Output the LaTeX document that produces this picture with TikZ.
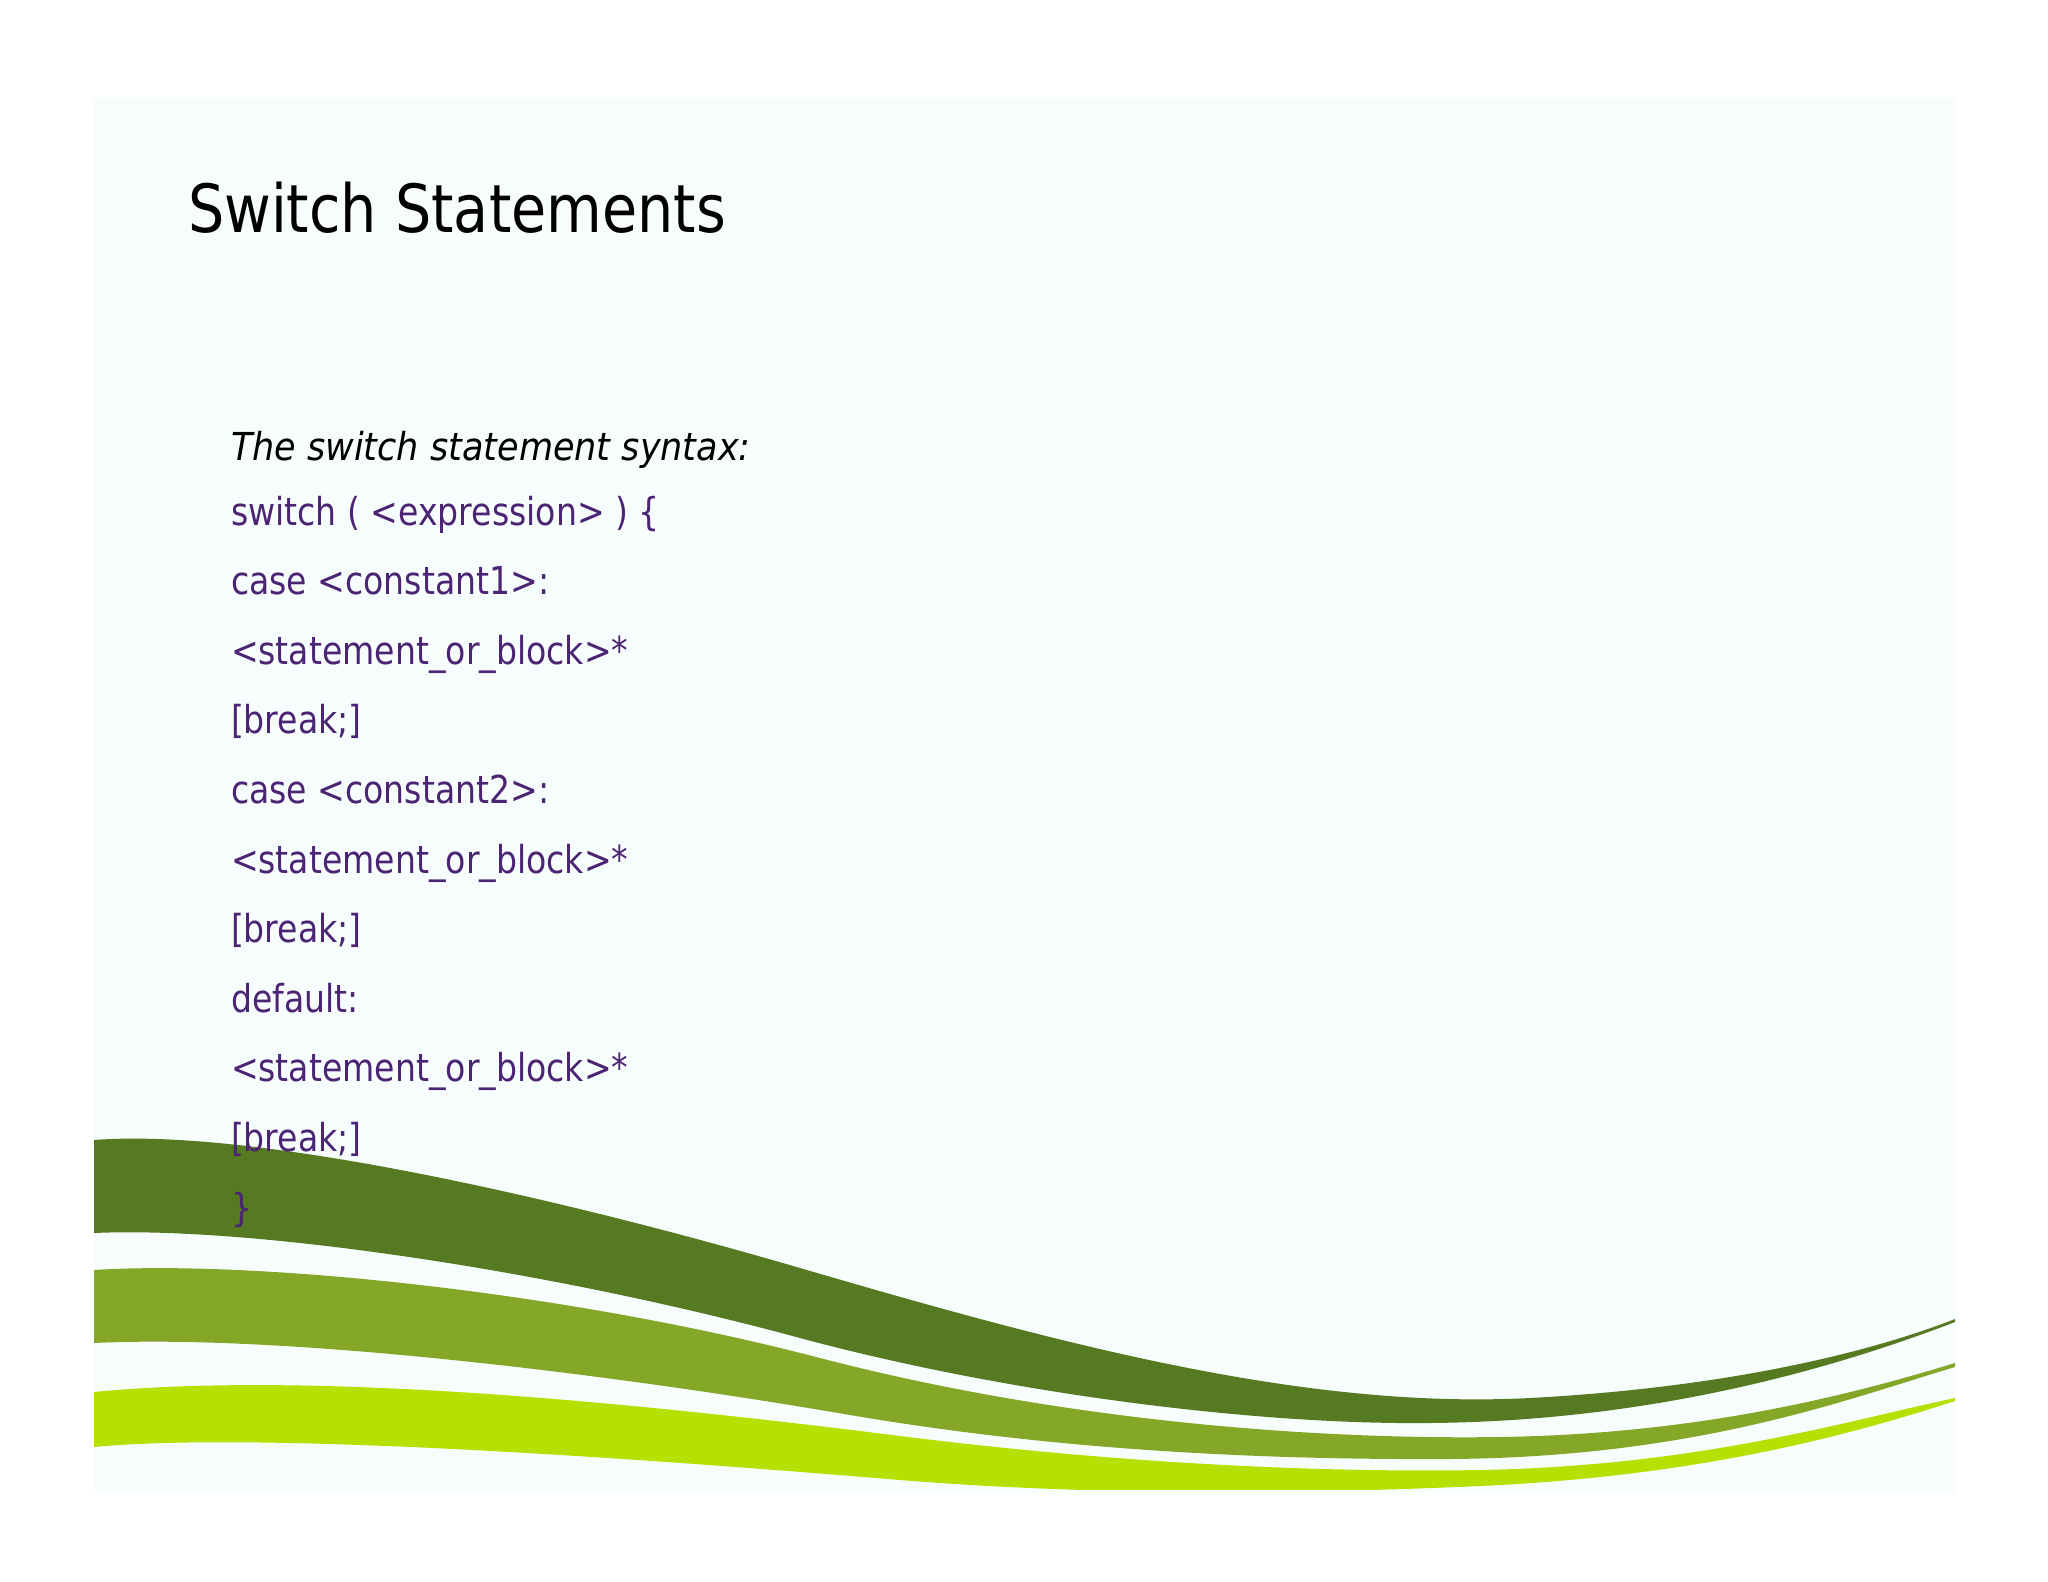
\documentclass[tikz,border=0pt]{standalone}
\usepackage{fontspec}
\newfontfamily\slidefont[FakeStretch=0.86]{DejaVu Sans}
\newfontfamily\slideital[FakeStretch=0.91]{DejaVu Sans Oblique}
\definecolor{slidebg}{HTML}{F7FCFD}
\definecolor{codepurple}{HTML}{4B2473}
\definecolor{wdark}{HTML}{557A22}
\definecolor{wmid}{HTML}{84A727}
\definecolor{wlight}{HTML}{B5E000}
\begin{document}
\begin{tikzpicture}[x=1pt,y=-1pt,
  txt/.style={anchor=base west, inner sep=0pt, outer sep=0pt, text=codepurple,
    font=\slidefont\fontsize{38.5}{46}\selectfont},
  ttl/.style={anchor=base west, inner sep=0pt, outer sep=0pt, text=black,
    font=\slidefont\fontsize{66.5}{80}\selectfont}]
\useasboundingbox (0,0) rectangle (2048,1582);
\fill[white] (0,0) rectangle (2048,1582);
\fill[slidebg] (94,98) rectangle (1955,1492);
\begin{scope}
\clip (94,98) rectangle (1955,1489);
% dark band
\fill[wdark] (94,1140) .. controls (250,1128) and (550,1195) .. (800,1268)
  .. controls (1050,1341) and (1300,1410) .. (1530,1398)
  .. controls (1700,1389) and (1850,1360) .. (1955,1319)
  -- (1955,1322)
  .. controls (1830,1370) and (1650,1421) .. (1430,1423)
  .. controls (1250,1425) and (1000,1392) .. (800,1338)
  .. controls (550,1270) and (250,1226) .. (94,1233) -- cycle;
% medium band
\fill[wmid] (94,1270) .. controls (250,1260) and (560,1290) .. (820,1358)
  .. controls (1050,1418) and (1300,1440) .. (1500,1437)
  .. controls (1700,1434) and (1850,1395) .. (1955,1363)
  -- (1955,1367)
  .. controls (1850,1398) and (1700,1457) .. (1450,1459)
  .. controls (1250,1460) and (1050,1449) .. (850,1415)
  .. controls (600,1372) and (280,1334) .. (94,1343) -- cycle;
% light band
\fill[wlight] (94,1392) .. controls (300,1372) and (600,1398) .. (900,1436)
  .. controls (1100,1461) and (1300,1473) .. (1480,1470)
  .. controls (1700,1466) and (1850,1420) .. (1955,1398)
  -- (1955,1401)
  .. controls (1850,1435) and (1700,1476) .. (1480,1486)
  .. controls (1300,1494) and (1100,1496) .. (900,1480)
  .. controls (600,1455) and (250,1432) .. (94,1447) -- cycle;
\end{scope}
\node[ttl] (title) at (188,232) {Switch Statements};
\node[txt, text=black, font=\slideital\fontsize{38.5}{46}\selectfont] (l0) at (231,460) {The switch statement syntax:};
\node[txt] (l1) at (231,525) {switch ( <expression> ) \{};
\node[txt] (l2) at (231,594.6) {case <constant1>:};
\node[txt] (l3) at (231,664.2) {<statement\_or\_block>*};
\node[txt] (l4) at (231,733.8) {[break;]};
\node[txt] (l5) at (231,803.4) {case <constant2>:};
\node[txt] (l6) at (231,873) {<statement\_or\_block>*};
\node[txt] (l7) at (231,942.6) {[break;]};
\node[txt] (l8) at (231,1012.2) {default:};
\node[txt] (l9) at (231,1081.8) {<statement\_or\_block>*};
\node[txt] (l10) at (231,1151.4) {[break;]};
\node[txt] (l11) at (231,1221) {\}};
\end{tikzpicture}
\end{document}
